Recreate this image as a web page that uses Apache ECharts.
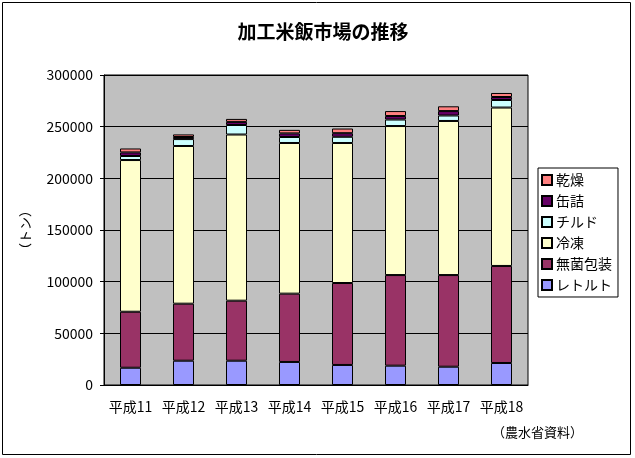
<!DOCTYPE html>
<html><head><meta charset="utf-8">
<script src="https://cdn.jsdelivr.net/npm/echarts@6/dist/echarts.min.js"></script>
<style>html,body{margin:0;padding:0;background:#fff}#c{width:635px;height:458px}</style>
</head><body><div id="c"></div>
<script>
const categories = ['平成11','平成12','平成13','平成14','平成15','平成16','平成17','平成18'];
const retort  = [16700, 23500, 23500, 22300, 19400, 18700, 17700, 21300];
const aseptic = [54200, 55200, 58100, 66100, 79300, 87700, 88700, 93900];
const frozen  = [146800,152600,160800,145800,135500,144200,149100,153300];
const chilled = [3900, 6700, 9200, 5800, 6000, 6300, 5300, 7300];
const canned  = [3500, 2000, 3000, 3500, 3500, 3400, 4300, 2900];
const dried   = [3800, 2500, 2900, 3400, 4500, 4800, 4600, 3900];
const yTicks = [0, 50000, 100000, 150000, 200000, 250000, 300000];

const font = '"Noto Sans CJK JP", sans-serif';
const seriesDefs = [
  ['レトルト', retort, '#9999FF'],
  ['無菌包装', aseptic, '#993366'],
  ['冷凍', frozen, '#FFFFCC'],
  ['チルド', chilled, '#CCFFFF'],
  ['缶詰', canned, '#660066'],
  ['乾燥', dried, '#FF8080']
];
const chart = echarts.init(document.getElementById('c'));
chart.setOption({
  animation: false,
  backgroundColor: '#fff',
  title: { text: '加工米飯市場の推移', left: 318, top: 17, textAlign: 'center',
    textStyle: { fontFamily: font, fontSize: 19, fontWeight: 'bold', color: '#000' } },
  graphic: [
    { type: 'rect', shape: { x: 2.5, y: 2.5, width: 628, height: 452 },
      style: { fill: 'none', stroke: '#000', lineWidth: 1 }, silent: true },
    { type: 'text', left: 492, top: 426,
      style: { text: '（農水省資料）', font: '13px ' + font, fill: '#000' } }
  ],
  legend: {
    data: ['乾燥','缶詰','チルド','冷凍','無菌包装','レトルト'],
    orient: 'vertical', left: 538, top: 168,
    itemWidth: 10, itemHeight: 10, itemGap: 7,
    padding: [5, 6, 5, 3],
    borderColor: '#000', borderWidth: 1, backgroundColor: '#fff',
    icon: 'rect',
    textStyle: { fontFamily: font, fontSize: 14, color: '#000', padding: [0,0,0,-1] }
  },
  grid: { left: 104, right: 107, top: 75, bottom: 73, show: true,
    backgroundColor: '#C0C0C0', borderColor: '#000', borderWidth: 1 },
  xAxis: {
    type: 'category', data: categories,
    axisLine: { lineStyle: { color: '#000' } },
    axisTick: { inside: true, length: 4, lineStyle: { color: '#000' } },
    axisLabel: { fontFamily: font, fontSize: 14, color: '#000', margin: 15, interval: 0 }
  },
  yAxis: {
    type: 'value', min: yTicks[0], max: yTicks[yTicks.length-1], interval: 50000,
    name: '（トン）', nameLocation: 'middle', nameGap: 72, nameRotate: 90,
    nameTextStyle: { fontFamily: font, fontSize: 13, color: '#000' },
    axisLine: { show: true, lineStyle: { color: '#000' } },
    axisTick: { show: true, length: 4, lineStyle: { color: '#000' } },
    axisLabel: { fontFamily: font, fontSize: 14, color: '#000', margin: 11,
      formatter: v => String(v) },
    splitLine: { lineStyle: { color: '#000', width: 1 } }
  },
  series: seriesDefs.map(([name, data, color]) => ({
    name, type: 'bar', stack: 'total', data, barWidth: 21,
    itemStyle: { color, borderColor: '#000', borderWidth: 1 }
  }))
});
</script></body></html>
